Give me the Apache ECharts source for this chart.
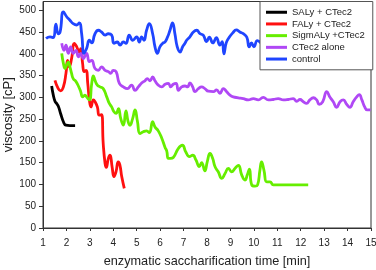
<!DOCTYPE html>
<html><head><meta charset="utf-8">
<script src="https://cdn.jsdelivr.net/npm/echarts@6/dist/echarts.min.js"></script>
<style>html,body{margin:0;padding:0;background:#fff}#c{width:376px;height:270px}</style>
</head><body><div id="c"></div>
<script>
var seriesNames = ['SALy + CTec2', 'FALy + CTec2', 'SigmALy +CTec2', 'CTec2 alone', 'control'];
var yTicks = [0,50,100,150,200,250,300,350,400,450,500];

var salyT = [1.37,1.44,1.52,1.58,1.65,1.75,1.87,1.98,2.15,2.37];
var salyV = [326,305,290,286,280,263,244,236,235,235];

var falyT = [1.51,1.65,1.75,1.87,1.98,2.05,2.12,2.22,2.34,2.44,2.54,2.61,2.69,2.76,2.84,2.91,2.98,3.05,3.15,3.22,3.32,3.40,3.50,3.57,3.65,3.70,3.79,3.86,3.95,4.03,4.12,4.21,4.28,4.36,4.47];
var falyV = [339,320,315,324,355,385,370,389,424,416,404,412,378,359,362,332,294,278,294,290,278,259,260,194,148,139,160,167,140,118,130,152,145,118,91];

var sigmT = [1.80,1.87,1.94,2.01,2.08,2.15,2.22,2.29,2.41,2.51,2.61,2.69,2.79,2.86,2.98,3.08,3.15,3.22,3.32,3.43,3.57,3.72,3.83,3.93,4.03,4.12,4.22,4.32,4.43,4.54,4.63,4.71,4.82,4.93,5.03,5.14,5.28,5.42,5.54,5.68,5.78,5.92,6.07,6.21,6.28,6.35,6.45,6.56,6.78,6.95,7.09,7.25,7.39,7.53,7.67,7.77,7.91,8.01,8.13,8.24,8.34,8.48,8.63,8.77,8.91,9.05,9.20,9.34,9.48,9.62,9.72,9.81,9.91,10.05,10.16,10.26,10.33,10.43,10.55,10.69,10.83,11.0,12.32];
var sigmV = [401,378,366,374,381,370,355,343,336,326,313,301,305,301,294,332,349,339,328,324,320,301,286,278,267,263,274,251,236,269,245,236,250,271,245,217,221,223,219,244,232,223,206,185,177,160,160,162,183,190,175,164,167,156,141,150,131,152,171,160,141,129,114,125,137,129,137,144,122,110,122,135,99,96,99,133,152,133,106,106,99,99,99];

var ctecT = [1.80,1.90,1.98,2.08,2.18,2.29,2.41,2.51,2.61,2.72,2.86,2.98,3.08,3.22,3.36,3.50,3.65,3.79,3.89,4.00,4.12,4.26,4.43,4.60,4.78,4.93,5.07,5.21,5.35,5.45,5.57,5.68,5.78,5.92,6.07,6.21,6.35,6.45,6.56,6.68,6.78,6.92,7.06,7.17,7.27,7.38,7.49,7.63,7.77,7.91,8.06,8.27,8.41,8.55,8.70,8.84,8.98,9.12,9.34,9.55,9.76,9.98,10.19,10.40,10.62,10.83,11.04,11.26,11.47,11.68,11.83,11.97,12.11,12.25,12.39,12.54,12.68,12.79,12.94,13.11,13.25,13.39,13.53,13.68,13.82,13.96,14.10,14.24,14.39,14.50,14.61,14.73,14.84,14.98];
var ctecV = [424,408,420,401,416,401,408,393,401,389,401,382,385,366,362,370,362,359,355,362,359,332,324,320,328,316,324,333,338,343,338,347,338,328,324,330,332,324,330,332,316,324,326,324,333,325,313,320,324,320,314,313,317,309,320,313,305,301,299,297,294,297,294,300,294,295,297,294,295,297,291,295,290,286,294,299,294,284,290,313,300,290,277,290,294,284,277,290,301,306,294,278,271,271];

var ctrlT = [1.13,1.30,1.44,1.55,1.65,1.73,1.87,2.01,2.15,2.29,2.44,2.55,2.65,2.75,2.86,2.98,3.08,3.22,3.36,3.50,3.65,3.79,3.93,4.03,4.17,4.29,4.43,4.54,4.68,4.83,5.00,5.11,5.21,5.31,5.42,5.54,5.68,5.78,5.88,5.99,6.11,6.21,6.32,6.42,6.53,6.63,6.73,6.85,6.96,7.06,7.13,7.27,7.42,7.56,7.70,7.84,7.98,8.10,8.25,8.40,8.55,8.65,8.72,8.82,8.95,9.10,9.25,9.40,9.55,9.70,9.80,9.90,10.0,10.15,10.3];
var ctrlV = [435,439,437,468,446,450,496,485,477,469,466,471,446,401,412,431,425,446,454,450,443,446,443,424,427,420,427,424,443,431,439,427,439,431,454,469,446,416,401,416,424,427,439,454,471,446,416,404,416,424,431,439,450,454,446,443,428,438,425,437,420,428,400,425,438,448,455,450,446,438,416,425,416,430,425];

var colors = ['#000000', '#ff1010', '#66ee00', '#b048f5', '#1f45ff'];
var pairs = [[salyT,salyV],[falyT,falyV],[sigmT,sigmV],[ctecT,ctecV],[ctrlT,ctrlV]];

function zip(t, v){ var n = Math.min(t.length, v.length), out = []; for (var i=0;i<n;i++) out.push([t[i], v[i]]); return out; }

var FONT = '"Liberation Sans", Arial, sans-serif';
var chart = echarts.init(document.getElementById('c'), null, {renderer:'canvas'});
chart.setOption({
  animation: false,
  backgroundColor: '#fff',
  color: colors,
  grid: { left: 43, right: 5, top: 1.5, bottom: 42, outerBoundsMode: 'none',
          show: true, borderColor: '#333', borderWidth: 1, backgroundColor: 'transparent' },
  legend: {
    orient: 'vertical', left: 260, top: 1.5,
    data: seriesNames,
    icon: 'rect', itemWidth: 21, itemHeight: 3, itemGap: 0.2,
    padding: [5, 8, 5, 6],
    backgroundColor: '#fff', borderColor: '#555', borderWidth: 1,
    textStyle: { fontFamily: FONT, fontSize: 9.5, lineHeight: 11.5, color: '#222', padding: [0,0,0,0] }
  },
  xAxis: {
    type: 'value', min: 1, max: 15, interval: 1,
    name: 'enzymatic saccharification time [min]', nameLocation: 'middle', nameGap: 27,
    nameMoveOverlap: false,
    nameTextStyle: { fontFamily: FONT, fontSize: 12.7, color: '#222' },
    axisLine: { onZero: false, lineStyle: { color: '#333', width: 1 } },
    axisTick: { show: true, length: 3, inside: false, lineStyle: { color: '#333' } },
    axisLabel: { fontFamily: FONT, fontSize: 10, color: '#222', margin: 10 },
    splitLine: { show: false }
  },
  yAxis: {
    type: 'value', min: 0, max: 520, interval: 50,
    name: 'viscosity [cP]', nameLocation: 'middle', nameGap: 28,
    nameMoveOverlap: false,
    nameTextStyle: { fontFamily: FONT, fontSize: 13, color: '#222' },
    axisLine: { show: true, onZero: false, lineStyle: { color: '#333', width: 1 } },
    axisTick: { show: true, length: 4, inside: false, lineStyle: { color: '#333' } },
    axisLabel: { fontFamily: FONT, fontSize: 10, color: '#222', margin: 7, showMaxLabel: false },
    splitLine: { show: false }
  },
  series: pairs.map(function(p, i){
    return {
      name: seriesNames[i], type: 'line', data: zip(p[0], p[1]),
      smooth: 0.5, showSymbol: false, symbol: 'none',
      lineStyle: { width: 2.8, color: colors[i] }, itemStyle: { color: colors[i] }
    };
  })
});
</script>
</body></html>
